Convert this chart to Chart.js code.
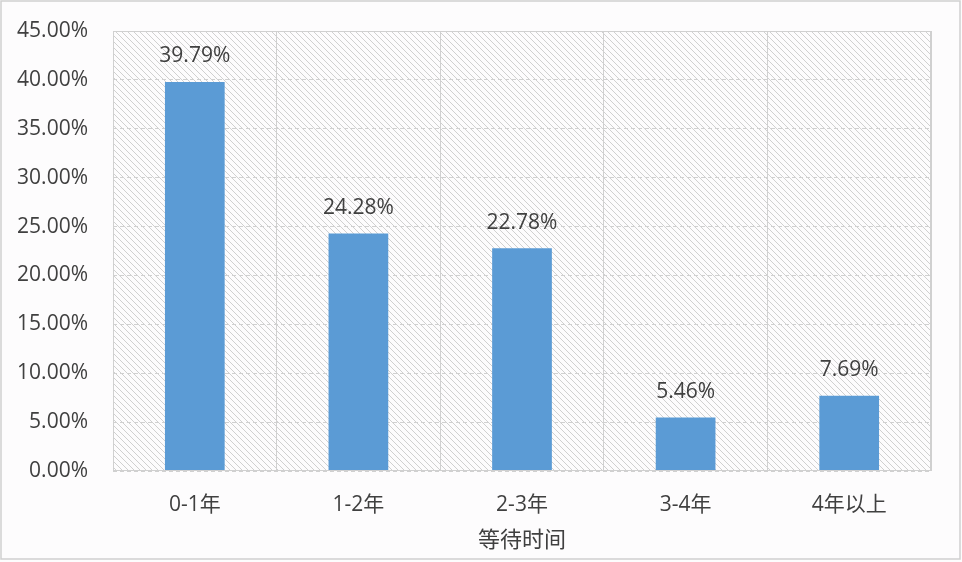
<!DOCTYPE html>
<html>
<head>
<meta charset="utf-8">
<script src="https://cdn.jsdelivr.net/npm/chart.js@4"></script>
<style>
  html, body { margin: 0; padding: 0; background: #fdfcfd; }
  #wrap { width: 962px; height: 562px; }
</style>
</head>
<body>
<div id="wrap"><canvas id="chart" width="962" height="562"></canvas></div>
<script>
// Waiting time distribution
const categories = ['0-1年', '1-2年', '2-3年', '3-4年', '4年以上'];
const shares = [39.79, 24.28, 22.78, 5.46, 7.69];
const axisTitle = '等待时间';

const textColor = '#404040';
const fontFamily = "'Open Sans', 'Noto Sans CJK SC', sans-serif";

// Hatched fill for the plot area
function makeHatch() {
    const size = 6;
    const c = document.createElement('canvas');
    c.width = size;
    c.height = size;
    const g = c.getContext('2d');
    g.strokeStyle = '#d0d0d0';
    g.lineWidth = 1;
    g.beginPath();
    g.moveTo(0, 0);
    g.lineTo(size, size);
    g.moveTo(-1, size - 1);
    g.lineTo(1, size + 1);
    g.moveTo(size - 1, -1);
    g.lineTo(size + 1, 1);
    g.stroke();
    return g.createPattern(c, 'repeat');
}

const backdrop = {
    id: 'backdrop',
    beforeDraw(chart) {
        const {ctx, chartArea: a, width, height} = chart;
        ctx.save();
        ctx.fillStyle = '#fdfcfd';
        ctx.fillRect(0, 0, width, height);
        ctx.strokeStyle = '#cfcfcf';
        ctx.lineWidth = 1.5;
        ctx.strokeRect(1, 1, width - 3, height - 4);
        ctx.fillStyle = makeHatch();
        ctx.fillRect(a.left, a.top, a.right - a.left, a.bottom - a.top);
        ctx.restore();
    },
    afterDraw(chart) {
        const {ctx, chartArea: a} = chart;
        ctx.save();
        ctx.strokeStyle = '#d0d0d0';
        ctx.lineWidth = 1;
        ctx.strokeRect(a.left + 0.5, a.top + 0.5, a.right - a.left - 1, a.bottom - a.top - 1);
        ctx.restore();
    }
};

// Value labels above bars
const valueLabels = {
    id: 'valueLabels',
    afterDatasetsDraw(chart) {
        const {ctx} = chart;
        const meta = chart.getDatasetMeta(0);
        ctx.save();
        ctx.font = '21px ' + fontFamily;
        ctx.fillStyle = textColor;
        ctx.textAlign = 'center';
        ctx.textBaseline = 'bottom';
        meta.data.forEach((bar, i) => {
            ctx.fillText(shares[i].toFixed(2) + '%', bar.x, bar.y - 15);
        });
        ctx.restore();
    }
};

new Chart(document.getElementById('chart').getContext('2d'), {
    type: 'bar',
    data: {
        labels: categories,
        datasets: [{
            data: shares,
            backgroundColor: '#5b9bd5',
            borderWidth: 0,
            categoryPercentage: 1,
            barPercentage: 0.365
        }]
    },
    options: {
        responsive: false,
        animation: false,
        layout: {padding: {top: 31, right: 31, bottom: 10, left: 10}},
        plugins: {
            legend: {display: false},
            tooltip: {enabled: false}
        },
        scales: {
            x: {
                afterFit: scale => { scale.height = 81; },
                grid: {color: '#d0d0d0', offset: true, drawTicks: false},
                border: {display: false},
                ticks: {color: textColor, font: {family: fontFamily, size: 21, lineHeight: 1}, padding: 24},
                title: {
                    display: true, text: axisTitle, color: textColor,
                    font: {family: fontFamily, size: 22, lineHeight: 1},
                    padding: {top: 16, bottom: 0}
                }
            },
            y: {
                min: 0,
                max: 45,
                afterFit: scale => {
                    scale.width = 103;
                    scale.paddingTop = 0;
                    scale.paddingBottom = 0;
                },
                grid: {color: '#d0d0d0', drawTicks: false},
                border: {display: false, dash: [4, 3]},
                ticks: {
                    stepSize: 5,
                    color: textColor,
                    font: {family: fontFamily, size: 21},
                    padding: 25,
                    callback: v => v.toFixed(2) + '%'
                }
            }
        }
    },
    plugins: [backdrop, valueLabels]
});
</script>
</body>
</html>
